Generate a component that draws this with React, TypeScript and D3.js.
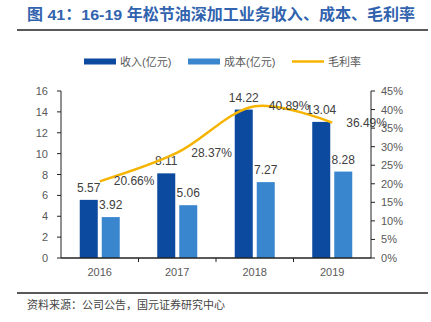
import React from 'react';
import * as d3 from 'd3';

const categories = ['2016', '2017', '2018', '2019'];
const revenue = [5.57, 8.11, 14.22, 13.04];
const cost = [3.92, 5.06, 7.27, 8.28];
const margin = [20.66, 28.37, 40.89, 36.49];
const leftTicks = [0, 2, 4, 6, 8, 10, 12, 14, 16];
const rightTicks = [0, 5, 10, 15, 20, 25, 30, 35, 40, 45];
const legendLabels = ['收入(亿元)', '成本(亿元)', '毛利率'];
const title = '图 41：16-19 年松节油深加工业务收入、成本、毛利率';
const source = '资料来源：公司公告，国元证券研究中心';

const W = 431, H = 322;
const L = 61, R = 371, T = 91, B = 258;
const C_REV = '#0B4A9E';
const C_COST = '#3A86CE';
const C_LINE = '#F5B400';
const FONT = '"Liberation Sans", Arial, "Noto Sans CJK SC", sans-serif';

export default function App() {
  const x = d3.scaleBand().domain(categories).range([L, R]).padding(0);
  const yL = d3.scaleLinear().domain([0, 16]).range([B, T]);
  const yR = d3.scaleLinear().domain([0, 45]).range([B, T]);
  const cx = (c: string) => (x(c) as number) + x.bandwidth() / 2;
  const barW = 18, gap = 2;
  const line = d3.line<number>()
    .x((_, i) => cx(categories[i]))
    .y((d) => yR(d))
    .curve(d3.curveCatmullRom.alpha(0.5));

  return (
    <svg width={W} height={H} style={{ position: 'absolute', left: 0, top: 0, background: '#fff' }} fontFamily={FONT}>
      <text x={27} y={20} fontSize={15.5} fontWeight="bold" fill="#3163AE" textLength={388} lengthAdjust="spacingAndGlyphs">{title}</text>
      <line x1={17} x2={428} y1={30} y2={30} stroke="#222" strokeWidth={1.5} />

      {/* legend */}
      <rect x={84} y={58.5} width={32} height={6} fill={C_REV} />
      <text x={120} y={65.5} fontSize={11} fill="#595959">{legendLabels[0]}</text>
      <rect x={188} y={58.5} width={32} height={6} fill={C_COST} />
      <text x={224} y={65.5} fontSize={11} fill="#595959">{legendLabels[1]}</text>
      <line x1={292} x2={324} y1={61.5} y2={61.5} stroke={C_LINE} strokeWidth={2.5} />
      <text x={328} y={65.5} fontSize={11} fill="#595959">{legendLabels[2]}</text>

      {/* bars */}
      {categories.map((c, i) => (
        <g key={c}>
          <rect x={cx(c) - gap - barW} y={yL(revenue[i])} width={barW} height={B - yL(revenue[i])} fill={C_REV} />
          <rect x={cx(c) + gap} y={yL(cost[i])} width={barW} height={B - yL(cost[i])} fill={C_COST} />
          <text x={cx(c) - gap - barW / 2} y={yL(revenue[i]) - 8} fontSize={12} fill="#404040" textAnchor="middle">{revenue[i].toFixed(2)}</text>
          <text x={cx(c) + gap + barW / 2} y={yL(cost[i]) - 8} fontSize={12} fill="#404040" textAnchor="middle">{cost[i].toFixed(2)}</text>
        </g>
      ))}

      {/* line */}
      <path d={line(margin) || ''} fill="none" stroke={C_LINE} strokeWidth={2.5} />
      {categories.map((c, i) => (
        <text key={c} x={cx(c) + 14} y={yR(margin[i]) + 4} fontSize={12} fill="#404040">{margin[i].toFixed(2)}%</text>
      ))}

      {/* axes */}
      <line x1={L} x2={L} y1={T} y2={B} stroke="#222" strokeWidth={1} />
      {leftTicks.map((t) => (
        <g key={t}>
          <line x1={L - 4} x2={L} y1={yL(t)} y2={yL(t)} stroke="#222" />
          <text x={48} y={yL(t) + 4} fontSize={11} fill="#595959" textAnchor="end">{t}</text>
        </g>
      ))}
      <line x1={R} x2={R} y1={T} y2={B} stroke="#222" strokeWidth={1} />
      {rightTicks.map((t) => (
        <g key={t}>
          <line x1={R} x2={R + 4} y1={yR(t)} y2={yR(t)} stroke="#222" />
          <text x={381} y={yR(t) + 4} fontSize={11} fill="#595959">{t}%</text>
        </g>
      ))}
      <line x1={L} x2={R} y1={B} y2={B} stroke="#222" strokeWidth={1.5} />
      {categories.map((c, i) => (
        <g key={c}>
          {i > 0 && <line x1={x(c) as number} x2={x(c) as number} y1={B} y2={B + 4} stroke="#222" />}
          <text x={cx(c)} y={276} fontSize={11} fill="#595959" textAnchor="middle">{c}</text>
        </g>
      ))}

      <line x1={17} x2={428} y1={293} y2={293} stroke="#222" strokeWidth={1.5} />
      <text x={27} y={309} fontSize={11} fill="#444">{source}</text>
    </svg>
  );
}
